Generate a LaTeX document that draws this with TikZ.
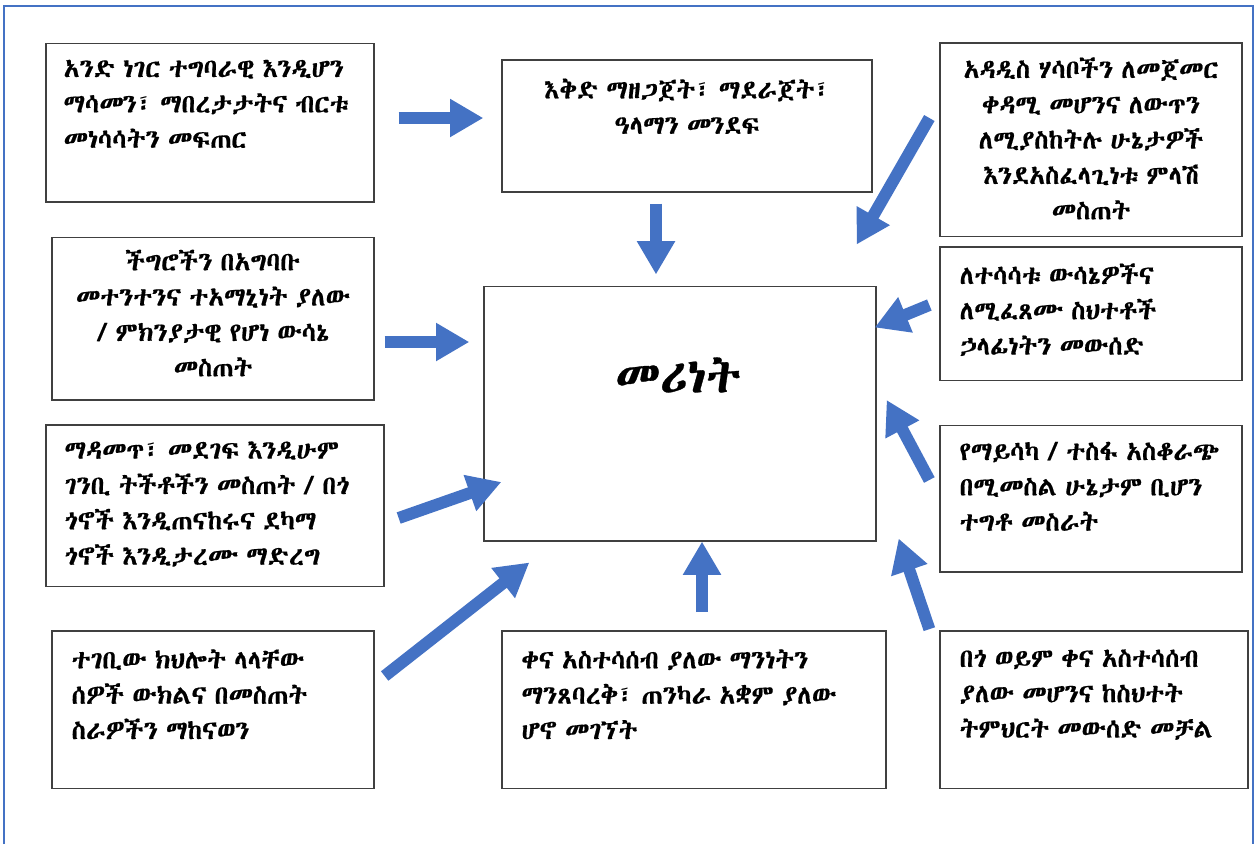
\documentclass[tikz,border=0pt]{standalone}
\usepackage{fontspec}
\usetikzlibrary{arrows.meta}
\IfFontExistsTF{Abyssinica SIL}{\newfontfamily\ethfont[Script=Ethiopic, FakeBold=0.6, WordSpace=0.7]{Abyssinica SIL}}{%
  \IfFontExistsTF{FreeSerif}{\newfontfamily\ethfont[Script=Ethiopic, FakeBold=0.6, WordSpace=0.7]{FreeSerif}}{%
    \IfFontExistsTF{FreeSans}{\newfontfamily\ethfont[Script=Ethiopic]{FreeSans}}{%
      \newfontfamily\ethfont{DejaVu Sans}}}}
\definecolor{officeblue}{HTML}{4472C4}
\definecolor{boxgray}{HTML}{404040}

\begin{document}
\begin{tikzpicture}
    [x=0.75pt, y=-0.75pt,
    box/.style={draw=boxgray, line width=1pt, inner sep=0pt},
    txt/.style={inner sep=0pt, font=\ethfont\fontsize{19.5}{26.5}\selectfont},
    bigtxt/.style={inner sep=0pt, font=\ethfont\fontsize{36}{40}\selectfont},
    blockarrow/.style={officeblue, line width=9pt, -{Triangle[length=25pt, width=27pt]}},
    frame/.style={officeblue, line width=2.2pt}]
        \useasboundingbox (0,0) rectangle (1256,844);
        \draw[frame] (4,844) |- (1253,6) -- (1253,844);

        % centre box
        \node[box, minimum width=294pt, minimum height=191pt] (lead) at (680,413.5) {};
        \node[bigtxt] (tlead) at (678,375) {መሪነት};

        % left column
        \node[box, minimum width=246pt, minimum height=119pt] (b1) at (210,122.5) {};
        \node[txt, anchor=north west, align=left] (t1) at ([shift={(18,17)}]b1.north west)
            {አንድ ነገር ተግባራዊ እንዲሆን\\ማሳመን፣ ማበረታታትና ብርቱ\\መነሳሳትን መፍጠር};
        \node[box, minimum width=241.5pt, minimum height=122pt] (b4) at (213,318.5) {};
        \node[txt, anchor=north, align=center] (t4) at ([shift={(0,13)}]b4.north)
            {ችግሮችን በአግባቡ\\መተንተንና ተአማኒነት ያለው\\/ ምክንያታዊ የሆነ ውሳኔ\\መስጠት};
        \node[box, minimum width=253.5pt, minimum height=121pt] (b6) at (215,505.5) {};
        \node[txt, anchor=north west, align=left] (t6) at ([shift={(19,17)}]b6.north west)
            {ማዳመጥ፣ መደገፍ እንዲሁም\\ገንቢ ትችቶችን መስጠት / በጎ\\ጎኖች እንዲጠናከሩና ደካማ\\ጎኖች እንዲታረሙ ማድረግ};
        \node[box, minimum width=241.5pt, minimum height=118pt] (b8) at (213,709.5) {};
        \node[txt, anchor=north west, align=left] (t8) at ([shift={(20,19)}]b8.north west)
            {ተገቢው ክህሎት ላላቸው\\ሰዎች ውክልና በመስጠት\\ስራዎችን ማከናወን};

        % middle column
        \node[box, minimum width=277.5pt, minimum height=99pt] (b2) at (687,126) {};
        \node[txt, anchor=north, align=center] (t2) at ([shift={(0,19)}]b2.north)
            {እቅድ ማዘጋጀት፣ ማደራጀት፣\\ዓላማን መንደፍ};
        \node[box, minimum width=288pt, minimum height=118pt] (b9) at (694,709.5) {};
        \node[txt, anchor=north west, align=left] (t9) at ([shift={(20,19)}]b9.north west)
            {ቀና አስተሳሰብ ያለው ማንነትን\\ማንጸባረቅ፣ ጠንካራ አቋም ያለው\\ሆኖ መገኘት};

        % right column
        \node[box, minimum width=226.5pt, minimum height=145pt] (b3) at (1091,139.5) {};
        \node[txt, anchor=north, align=center] (t3) at ([shift={(0,15)}]b3.north)
            {አዳዲስ ሃሳቦችን ለመጀመር\\ቀዳሚ መሆንና ለውጥን\\ለሚያስከትሉ ሁኔታዎች\\እንደአስፈላጊነቱ ምላሽ\\መስጠት};
        \node[box, minimum width=226.5pt, minimum height=100pt] (b5) at (1091,313.5) {};
        \node[txt, anchor=north west, align=left] (t5) at ([shift={(20,17)}]b5.north west)
            {ለተሳሳቱ ውሳኔዎችና\\ለሚፈጸሙ ስህተቶች\\ኃላፊነትን መውሰድ};
        \node[box, minimum width=226.5pt, minimum height=110pt] (b7) at (1091,498.5) {};
        \node[txt, anchor=north west, align=left] (t7) at ([shift={(20,17)}]b7.north west)
            {የማይሳካ / ተስፋ አስቆራጭ\\በሚመስል ሁኔታም ቢሆን\\ተግቶ መስራት};
        \node[box, minimum width=231pt, minimum height=118pt] (b10) at (1094,709.5) {};
        \node[txt, anchor=north west, align=left] (t10) at ([shift={(20,19)}]b10.north west)
            {በጎ ወይም ቀና አስተሳሰብ\\ያለው መሆንና ከስህተት\\ትምህርት መውሰድ መቻል};

        % arrows
        \draw[blockarrow] ([shift={(24,-4.5)}]b1.east) -- ([shift={(-18,-8)}]b2.west);
        \draw[blockarrow] ([shift={(-31,11)}]b2.south) -- ([shift={(-24,-11)}]lead.north);
        \draw[blockarrow] ([shift={(-10,-21.5)}]b3.west) -- ([shift={(-20,-41)}]lead.north east);
        \draw[blockarrow] ([shift={(10,23.5)}]b4.east) -- ([shift={(-14,-71.5)}]lead.west);
        \draw[blockarrow] ([shift={(-10,-8.5)}]b5.west) -- ([shift={(-2,42)}]lead.north east);
        \draw[blockarrow] ([shift={(14,12.5)}]b6.east) -- ([shift={(18,68.5)}]lead.west);
        \draw[blockarrow] ([shift={(-10,-18.5)}]b7.west) -- ([shift={(10,-13.5)}]lead.east);
        \draw[blockarrow] ([shift={(10,-33.5)}]b8.east) -- ([shift={(46,21)}]lead.south west);
        \draw[blockarrow] ([shift={(8,-18)}]b9.north) -- ([shift={(22,0)}]lead.south);
        \draw[blockarrow] ([shift={(-10,-1)}]b10.north west) -- ([shift={(22,-3)}]lead.south east);
    \end{tikzpicture}
\end{document}
